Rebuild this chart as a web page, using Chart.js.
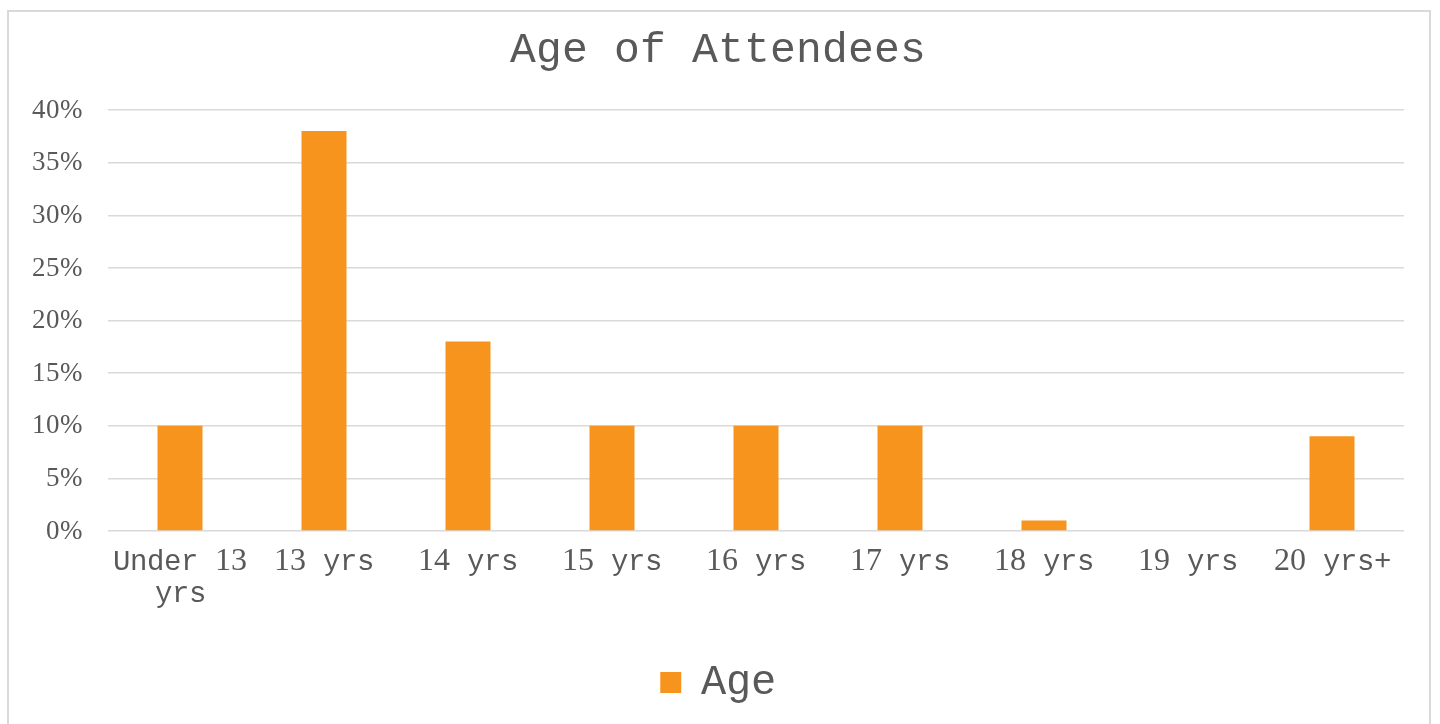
<!DOCTYPE html>
<html>
<head>
<meta charset="utf-8">
<script src="https://cdn.jsdelivr.net/npm/chart.js@4.4.1/dist/chart.umd.min.js"></script>
<style>
  /* digits and % come out in a serif face, letters in a typewriter face */
  @font-face { font-family: "MixFace"; src: local("Liberation Serif"), local("LiberationSerif"); unicode-range: U+0030-0039, U+0025; }
  @font-face { font-family: "MixFace"; src: local("Liberation Mono"), local("LiberationMono"); unicode-range: U+0000-0024, U+0026-002F, U+003A-FFFF; size-adjust: 108%; }
  /* x labels: the serif digits sit a bit bigger */
  @font-face { font-family: "MixFaceX"; src: local("Liberation Serif"), local("LiberationSerif"); unicode-range: U+0030-0039, U+0025; size-adjust: 118%; }
  @font-face { font-family: "MixFaceX"; src: local("Liberation Mono"), local("LiberationMono"); unicode-range: U+0000-0024, U+0026-002F, U+003A-FFFF; size-adjust: 108%; }
  html, body { margin: 0; padding: 0; background: #fff; }
  #frame { position: absolute; left: 7px; top: 10px; width: 1424px; height: 720px; border: 2px solid #d9d9d9; box-sizing: border-box; }
  #wrap { position: absolute; left: 0; top: 0; width: 1440px; height: 724px; }
</style>
</head>
<body>
<div id="frame"></div>
<div id="wrap"><canvas id="ageChart" width="1440" height="724"></canvas></div>
<script>
var categories = [["Under 13", "yrs"], "13 yrs", "14 yrs", "15 yrs", "16 yrs", "17 yrs", "18 yrs", "19 yrs", "20 yrs+"];
var agePercent = [10, 38, 18, 10, 10, 10, 1, 0, 9];     // % of attendees
var seriesName = "Age";
var chartTitle = "Age of Attendees";

var textColor = "#595959";
var fontStack = "MixFace, 'Liberation Mono', monospace";
var fontStackX = "MixFaceX, 'Liberation Mono', monospace";

function init() {       // build the chart once fonts are ready
  var ctx = document.getElementById('ageChart').getContext("2d");
  new Chart(ctx, {
    type: 'bar',
    data: {
      labels: categories,
      datasets: [{
        label: seriesName,
        data: agePercent,
        backgroundColor: "#f7941d",
        borderWidth: 0,
        barPercentage: 0.625,
        categoryPercentage: 0.5
      }]
    },
    options: {
      responsive: false,
      animation: false,
      layout: { padding: { left: 32, right: 36, top: 0, bottom: 12 } },
      plugins: {
        title: {
          display: true,
          text: chartTitle,
          color: textColor,
          font: { family: fontStack, size: 40, weight: 'normal', lineHeight: 1.2 },
          padding: { top: 27, bottom: 35 }
        },
        legend: {
          position: 'bottom',
          labels: {
            color: textColor,
            font: { family: fontStack, size: 39 },
            boxWidth: 21,
            boxHeight: 21,
            padding: 10
          }
        },
        tooltip: { enabled: false }
      },
      scales: {
        x: {
          grid: { display: false, drawTicks: false },
          border: { display: false },
          ticks: {
            color: textColor,
            font: { family: fontStackX, size: 27, lineHeight: 1.2 },
            padding: 15,
            maxRotation: 0,
            autoSkip: false
          },
          afterFit: function (scale) { scale.height = 122; }
        },
        y: {
          min: 0,
          max: 40,
          grid: { color: "#d9d9d9", lineWidth: 1.5, drawTicks: false },
          border: { display: false },
          ticks: {
            stepSize: 5,
            color: textColor,
            font: { family: fontStack, size: 27 },
            padding: 26,
            callback: function (v) { return v + "%"; }
          },
          afterFit: function (scale) { scale.width = 76; }   // 32 + 76 = plot left at 108
        }
      }
    }
  });
}

Promise.all([
  document.fonts.load("27px MixFace", "0%"),
  document.fonts.load("27px MixFace", "Age"),
  document.fonts.load("27px MixFaceX", "0%"),
  document.fonts.load("27px MixFaceX", "Age")
]).then(init, init);
</script>
</body>
</html>
